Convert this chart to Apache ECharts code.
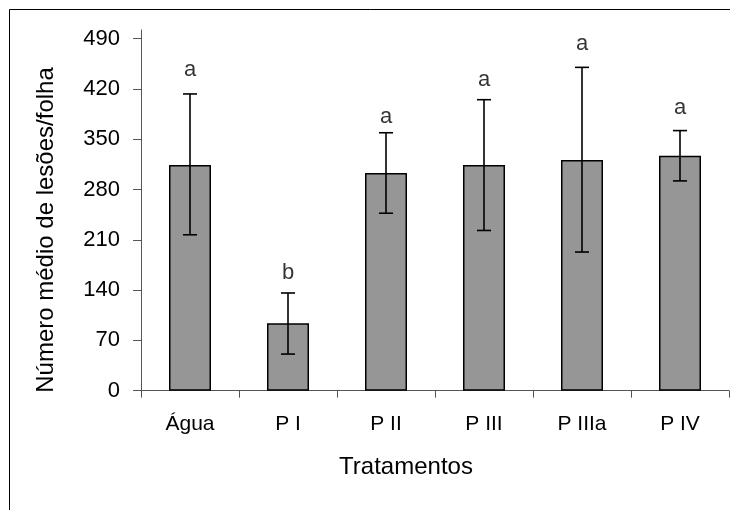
<!DOCTYPE html>
<html><head><meta charset="utf-8">
<script src="https://cdn.jsdelivr.net/npm/echarts@6/dist/echarts.min.js"></script>
<style>html,body{margin:0;padding:0;background:#fff}#c{width:730px;height:510px}</style>
</head><body><div id="c"></div>
<script>
var categories = ['Água', 'P I', 'P II', 'P III', 'P IIIa', 'P IV'];
var means = [314, 94, 303, 314, 321, 327];
var errLow = [217, 51, 247, 223, 193, 292];
var errHigh = [413, 136, 359, 405, 450, 362];
var letters = ['a', 'b', 'a', 'a', 'a', 'a'];
var letterPos = [446, 164, 381, 432, 483, 393];
var yTicks = [0, 70, 140, 210, 280, 350, 420, 490];

var FONT = 'Liberation Sans, Arial, sans-serif';
var chart = echarts.init(document.getElementById('c'), null, {renderer: 'canvas'});
chart.setOption({
  animation: false,
  backgroundColor: '#fff',
  grid: {left: 141, right: 1, top: 30, bottom: 119.3, containLabel: false},
  xAxis: {
    type: 'category', data: categories, boundaryGap: true,
    axisLine: {lineStyle: {color: '#555', width: 1}},
    axisTick: {show: true, length: 7, lineStyle: {color: '#555'}},
    axisLabel: {color: '#000', fontSize: 21, fontFamily: FONT, margin: 23}
  },
  yAxis: {
    type: 'value', min: 0, max: 502, interval: 70,
    splitLine: {show: false},
    axisLine: {show: true, lineStyle: {color: '#555', width: 1}},
    axisTick: {show: true, length: 8, lineStyle: {color: '#555'}, customValues: yTicks},
    axisLabel: {color: '#000', fontSize: 22, fontFamily: FONT, margin: 21, customValues: yTicks}
  },
  graphic: [
    {type: 'rect', shape: {x: 9.5, y: 9.5, width: 760, height: 560}, style: {fill: null, stroke: '#000', lineWidth: 1}, z: 0, silent: true},
    {type: 'text', x: 46, y: 230, rotation: Math.PI / 2, style: {text: 'Número médio de lesões/folha', font: '24px ' + FONT, fill: '#000', align: 'center', verticalAlign: 'middle'}},
    {type: 'text', x: 406, y: 467, style: {text: 'Tratamentos', font: '24px ' + FONT, fill: '#000', align: 'center', verticalAlign: 'middle'}}
  ],
  series: [
    {
      type: 'bar', data: means, barWidth: 42,
      itemStyle: {color: '#969696', borderColor: '#000', borderWidth: 1.5},
      z: 2
    },
    {
      type: 'custom', z: 5,
      data: categories.map(function (c, i) { return [i, errLow[i], errHigh[i]]; }),
      renderItem: function (params, api) {
        var lo = api.coord([api.value(0), api.value(1)]);
        var hi = api.coord([api.value(0), api.value(2)]);
        var cap = 7;
        var st = {stroke: '#000', lineWidth: 1.6};
        return {type: 'group', children: [
          {type: 'line', shape: {x1: lo[0], y1: lo[1], x2: hi[0], y2: hi[1]}, style: st},
          {type: 'line', shape: {x1: lo[0] - cap, y1: lo[1], x2: lo[0] + cap, y2: lo[1]}, style: st},
          {type: 'line', shape: {x1: hi[0] - cap, y1: hi[1], x2: hi[0] + cap, y2: hi[1]}, style: st}
        ]};
      }
    },
    {
      type: 'scatter', symbolSize: 0, z: 6,
      data: categories.map(function (c, i) { return [i, letterPos[i]]; }),
      label: {show: true, position: 'inside', color: '#000', fontSize: 22, fontFamily: FONT,
        formatter: function (p) { return letters[p.dataIndex]; }}
    }
  ]
});
</script></body></html>
